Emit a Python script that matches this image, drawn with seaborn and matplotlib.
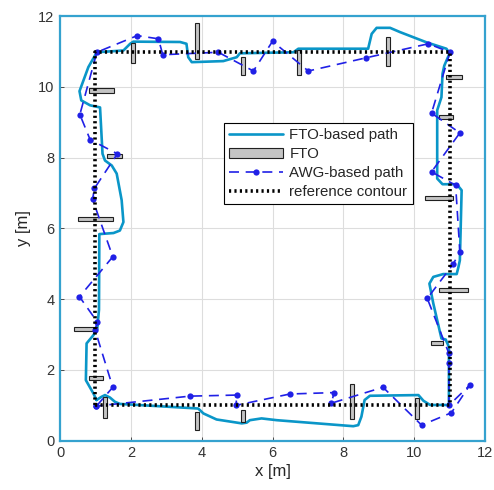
import numpy as np
import pandas as pd
import matplotlib
matplotlib.use("Agg")
import matplotlib.pyplot as plt
import seaborn as sns

# ---------------- data ----------------
# reference contour (square)
ref_x = [1, 1, 11, 11, 1]
ref_y = [1, 11, 11, 1, 1]

# FTO-based path (clockwise from bottom-left)
fto_path_x = [1.03, 0.94, 0.73, 0.75, 0.94, 1.05, 1.10, 1.11, 1.51, 1.69, 1.79, 1.74, 1.60, 1.46,
              1.27, 1.20, 1.13, 0.85, 0.60, 0.55, 0.80, 1.04, 1.79, 1.98, 2.07, 3.39, 3.57, 3.62,
              3.72, 4.61, 4.99, 5.08, 6.59, 6.73, 8.70, 8.80, 8.94, 9.32, 9.60, 10.35, 10.91, 11.00,
              10.85, 10.80, 10.77, 10.65, 10.65, 10.80, 11.20, 11.34, 11.29, 11.25, 11.20, 10.82,
              10.54, 10.43, 10.54, 10.77, 10.89, 10.98, 10.98, 10.45, 10.26, 10.12, 8.75, 8.60,
              8.51, 8.42, 8.28, 6.12, 5.69, 5.36, 5.27, 5.13, 4.42, 4.05, 3.90, 1.69, 1.55, 1.41,
              1.27, 1.17, 1.03]
fto_path_y = [1.15, 1.34, 1.71, 2.75, 2.98, 3.15, 3.70, 5.84, 5.87, 5.94, 6.18, 6.80, 7.55, 7.78,
              7.92, 8.11, 9.42, 9.48, 9.62, 9.88, 10.56, 10.98, 11.03, 11.22, 11.28, 11.27, 11.22,
              10.84, 10.70, 10.73, 10.84, 10.95, 10.98, 11.08, 11.08, 11.50, 11.67, 11.67, 11.55,
              11.26, 11.08, 10.95, 10.60, 10.37, 9.71, 9.34, 7.41, 7.25, 7.25, 7.08, 5.10, 4.91,
              4.71, 4.71, 4.63, 4.44, 3.88, 2.89, 2.86, 2.65, 1.01, 1.01, 1.13, 1.29, 1.27, 1.15,
              0.68, 0.44, 0.41, 0.58, 0.63, 0.58, 0.51, 0.49, 0.60, 0.77, 0.91, 1.04, 1.10, 1.22,
              1.29, 1.24, 1.15]

# AWG-based path (clockwise from bottom-left)
awg_x = [1.03, 1.49, 0.99, 1.05, 0.55, 1.49, 0.92, 0.97, 1.62, 0.85, 0.56, 1.04, 2.18, 2.78,
         2.90, 4.47, 5.46, 6.00, 7.01, 8.63, 10.40, 11.01, 10.49, 11.29, 10.49, 11.17, 11.29,
         11.10, 10.37, 10.98, 10.98, 10.98, 11.57, 11.05, 10.21, 9.12, 7.66, 7.74, 6.49, 4.97,
         4.99, 3.67, 1.03]
awg_y = [0.98, 1.51, 3.13, 3.36, 4.07, 5.20, 6.82, 7.13, 8.11, 8.51, 9.22, 10.98, 11.45, 11.36,
         10.91, 10.98, 10.45, 11.29, 10.45, 10.82, 11.22, 10.98, 9.26, 8.70, 7.60, 7.22, 5.34,
         4.99, 4.02, 2.47, 2.20, 1.00, 1.57, 0.79, 0.44, 1.51, 1.06, 1.36, 1.32, 1.00, 1.29,
         1.26, 0.98]

# FTO rectangles: centre x, centre y, width, height
fto_cx = [2.06, 3.87, 5.17, 6.75, 9.26, 11.12, 10.90, 10.70, 11.10, 10.64,
          10.07, 8.25, 5.17, 3.87, 1.27, 1.02, 0.72, 1.00, 1.54, 1.17]
fto_cy = [10.96, 11.30, 10.60, 10.70, 11.00, 10.29, 9.15, 6.86, 4.25, 2.76,
          0.90, 1.10, 0.70, 0.55, 0.94, 1.77, 3.15, 6.26, 8.05, 9.90]
fto_w = [0.12, 0.12, 0.12, 0.12, 0.12, 0.45, 0.40, 0.80, 0.82, 0.32,
         0.12, 0.12, 0.12, 0.12, 0.12, 0.40, 0.65, 1.00, 0.42, 0.70]
fto_h = [0.55, 1.00, 0.50, 0.70, 0.80, 0.12, 0.12, 0.12, 0.12, 0.12,
         0.60, 1.00, 0.35, 0.50, 0.60, 0.12, 0.12, 0.12, 0.12, 0.12]

x_ticks = [0, 2, 4, 6, 8, 10, 12]
y_ticks = [0, 2, 4, 6, 8, 10, 12]

# ---------------- style ----------------
sns.set_theme(style="whitegrid")
plt.rcParams["font.family"] = ["Liberation Sans", "DejaVu Sans"]

C_FTO = "#0a96c8"
C_AWG = "#2020e6"
C_FRAME = "#35a2cf"

fig = plt.figure(figsize=(4.94, 4.90), dpi=100)
ax = fig.add_axes([0.1215, 0.1006, 0.8603, 0.8664])

fto_df = pd.DataFrame({"x": fto_path_x, "y": fto_path_y})
awg_df = pd.DataFrame({"x": awg_x, "y": awg_y})
ref_df = pd.DataFrame({"x": ref_x, "y": ref_y})

# FTO-based path
sns.lineplot(data=fto_df, x="x", y="y", sort=False, estimator=None, ax=ax,
             color=C_FTO, linewidth=1.9, label="FTO-based path", zorder=3)

# FTO rectangles
cx = np.array(fto_cx); cy = np.array(fto_cy)
w = np.array(fto_w); h = np.array(fto_h)
bars = ax.bar(cx, h, width=w, bottom=cy - h / 2, color="#c4c4c4",
              edgecolor="#202020", linewidth=0.8, label="FTO", zorder=4)

# AWG-based path
sns.lineplot(data=awg_df, x="x", y="y", sort=False, estimator=None, ax=ax,
             color=C_AWG, linewidth=1.2, linestyle=(0, (6, 4)), marker="o",
             markersize=4.5, markeredgewidth=0, label="AWG-based path", zorder=5)

# reference contour
sns.lineplot(data=ref_df, x="x", y="y", sort=False, estimator=None, ax=ax,
             color="black", linewidth=2.6, linestyle=(0, (0.6, 0.9)),
             label="reference contour", zorder=6)

ax.set_xlim(0, 12)
ax.set_ylim(0, 12)
ax.set_xticks(x_ticks)
ax.set_yticks(y_ticks)
ax.set_xticklabels([str(t) for t in x_ticks])
ax.set_yticklabels([str(t) for t in y_ticks])
ax.set_xlabel("x [m]", fontsize=12, color="#262626", labelpad=3)
ax.set_ylabel("y [m]", fontsize=12, color="#262626", labelpad=5)
ax.tick_params(axis="both", labelsize=10.5, colors="#333333", direction="in",
               length=3, width=0.6, bottom=True, left=True, pad=4)
ax.grid(True, color="#dddddd", linewidth=0.8)
for s in ax.spines.values():
    s.set_color(C_FRAME)
    s.set_linewidth(1.6)
    s.set_visible(True)

handles, labels = ax.get_legend_handles_labels()
order = ["FTO-based path", "FTO", "AWG-based path", "reference contour"]
hmap = dict(zip(labels, handles))
leg = ax.legend([hmap[k] for k in order], order,
                loc="upper left", bbox_to_anchor=(0.386, 0.748), frameon=True,
                fancybox=False, framealpha=1, edgecolor="black", fontsize=10.8,
                handlelength=3.6, handletextpad=0.4, labelspacing=0.32,
                borderpad=0.35, borderaxespad=0)
leg.get_frame().set_linewidth(0.8)

fig.savefig("out.png", dpi=100)
